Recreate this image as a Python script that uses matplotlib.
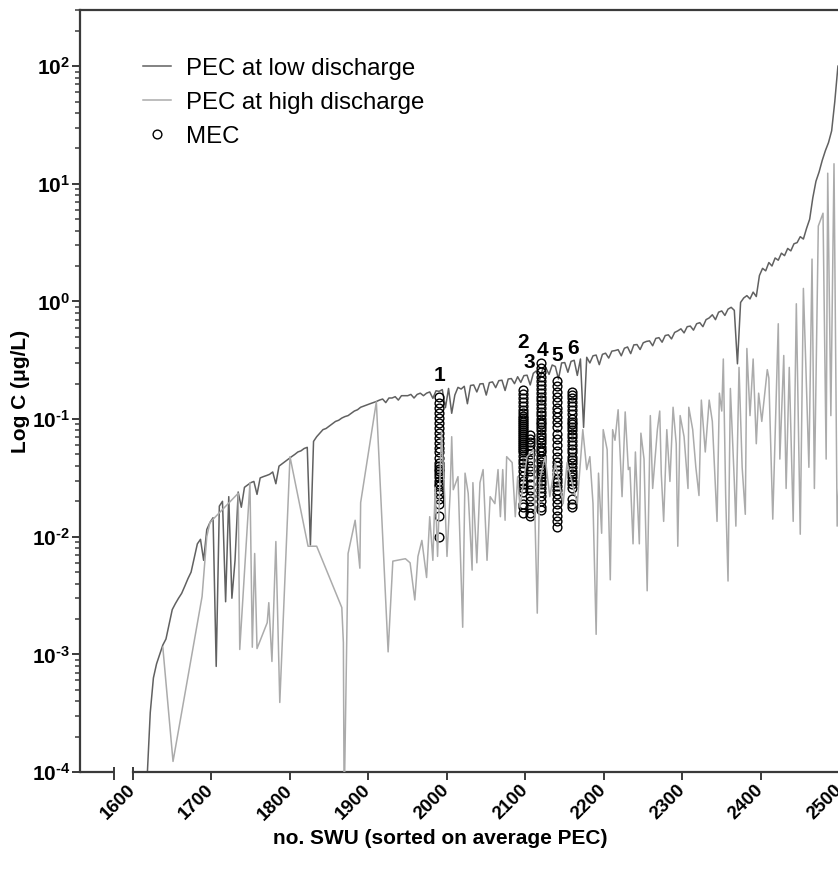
import numpy as np
import matplotlib
matplotlib.use('Agg')
import matplotlib.pyplot as plt
from matplotlib.ticker import FixedLocator, FuncFormatter, NullFormatter

plt.rcParams['font.family'] = ['Liberation Sans', 'DejaVu Sans']
plt.rcParams['mathtext.fontset'] = 'custom'
plt.rcParams['mathtext.rm'] = 'Liberation Sans'
plt.rcParams['mathtext.bf'] = 'Liberation Sans:bold'
plt.rcParams['mathtext.it'] = 'Liberation Sans:italic'

# ---------------- data ----------------
# PEC at low discharge (ug/L), SWU sorted on average PEC (every 4th SWU)
LOW_X = np.arange(1618, 2499, 4)
LOW_C = [
    0.000089, 0.00032, 0.00063, 0.00083, 0.0010, 0.0012, 0.00135, 0.0018, 0.0024, 0.0027,
    0.0030, 0.0033, 0.0038, 0.0044, 0.0050, 0.0066, 0.0087, 0.0095, 0.0063, 0.0115,
    0.0132, 0.0145, 0.00079, 0.0182, 0.020, 0.0028, 0.0219, 0.0030, 0.0063, 0.024,
    0.0178, 0.0263, 0.0275, 0.0288, 0.0295, 0.0229, 0.0316, 0.0324, 0.0331, 0.0339,
    0.0355, 0.0282, 0.0398, 0.0417, 0.0437, 0.0457, 0.0479, 0.050, 0.0525, 0.0537,
    0.0562, 0.0575, 0.0085, 0.0646, 0.0708, 0.0759, 0.0813, 0.0832, 0.0871, 0.0912,
    0.0955, 0.0977, 0.102, 0.105, 0.107, 0.112, 0.117, 0.120, 0.126, 0.129,
    0.132, 0.135, 0.138, 0.141, 0.145, 0.148, 0.138, 0.151, 0.151, 0.155,
    0.145, 0.158, 0.158, 0.158, 0.162, 0.151, 0.162, 0.166, 0.158, 0.166,
    0.170, 0.150, 0.174, 0.172, 0.178, 0.125, 0.182, 0.112, 0.160, 0.186,
    0.180, 0.190, 0.135, 0.193, 0.195, 0.170, 0.199, 0.200, 0.160, 0.204,
    0.207, 0.185, 0.212, 0.214, 0.175, 0.219, 0.221, 0.200, 0.229, 0.205,
    0.234, 0.236, 0.195, 0.245, 0.257, 0.215, 0.269, 0.272, 0.240, 0.288,
    0.280, 0.219, 0.300, 0.302, 0.250, 0.309, 0.316, 0.235, 0.324, 0.085,
    0.335, 0.300, 0.345, 0.350, 0.290, 0.355, 0.363, 0.330, 0.378, 0.382,
    0.389, 0.345, 0.400, 0.410, 0.360, 0.427, 0.430, 0.390, 0.445, 0.457,
    0.462, 0.420, 0.485, 0.492, 0.450, 0.513, 0.520, 0.480, 0.545, 0.562,
    0.585, 0.540, 0.610, 0.617, 0.570, 0.646, 0.660, 0.610, 0.700, 0.724,
    0.770, 0.700, 0.810, 0.830, 0.760, 0.860, 0.891, 0.840, 0.295, 0.980,
    1.07, 1.12, 1.05, 1.20, 1.10, 1.66, 1.91, 1.82, 2.14, 2.00,
    2.34, 2.24, 2.57, 2.45, 2.82, 2.69, 3.09, 3.16, 3.55, 3.39,
    4.17, 5.0, 7.6, 10.5, 12.6, 15.8, 19.1, 22.4, 28.2, 50,
    100,
]

# PEC at high discharge (ug/L)
HIGH_X = [
    1638, 1651, 1688, 1694, 1698, 1734, 1736, 1749, 1752, 1755,
    1758, 1771, 1773, 1777, 1782, 1787, 1800, 1823, 1834, 1866,
    1868, 1869, 1874, 1883, 1889, 1890, 1910, 1925, 1931, 1947,
    1953, 1959, 1963, 1968, 1974, 1978, 1982, 1985, 1988, 1993,
    1997, 2000, 2004, 2006, 2008, 2014, 2020, 2023, 2027, 2032,
    2033, 2038, 2042, 2046, 2051, 2055, 2061, 2065, 2068, 2071,
    2074, 2076, 2083, 2087, 2090, 2093, 2102, 2110, 2115, 2118,
    2125, 2131, 2138, 2144, 2148, 2153, 2166, 2173, 2178, 2182,
    2186, 2190, 2193, 2197, 2199, 2204, 2208, 2211, 2214, 2218,
    2223, 2227, 2231, 2233, 2237, 2240, 2245, 2247, 2251, 2255,
    2259, 2262, 2268, 2271, 2273, 2276, 2280, 2284, 2288, 2292,
    2294, 2297, 2302, 2307, 2308, 2313, 2317, 2321, 2324, 2329,
    2334, 2338, 2344, 2347, 2350, 2352, 2355, 2358, 2361, 2366,
    2368, 2372, 2376, 2380, 2382, 2386, 2390, 2394, 2397, 2401,
    2408, 2410, 2415, 2422, 2424, 2429, 2432, 2436, 2441, 2445,
    2450, 2454, 2457, 2461, 2465, 2468, 2473, 2479, 2483, 2485,
    2489, 2493, 2497, 2499,
]
HIGH_C = [
    0.00115, 0.000123, 0.0031, 0.0100, 0.0132, 0.0234, 0.0011, 0.0288, 0.00115, 0.0072,
    0.00112, 0.00186, 0.00275, 0.00087, 0.0091, 0.00039, 0.0479, 0.0083, 0.0083, 0.0025,
    0.00126, 0.00005, 0.0072, 0.0138, 0.0054, 0.0195, 0.140, 0.00105, 0.0062, 0.0065,
    0.0060, 0.0029, 0.0068, 0.0093, 0.0045, 0.0148, 0.0063, 0.0263, 0.0068, 0.079,
    0.0224, 0.0068, 0.0234, 0.0708, 0.0251, 0.0324, 0.0017, 0.0347, 0.0234, 0.0052,
    0.0288, 0.0060, 0.0288, 0.0372, 0.0063, 0.0219, 0.0191, 0.0372, 0.0148, 0.0372,
    0.0138, 0.0479, 0.0427, 0.0148, 0.0324, 0.0178, 0.0479, 0.055, 0.00224, 0.0302,
    0.0479, 0.0219, 0.0427, 0.0263, 0.0191, 0.0427, 0.0191, 0.0813, 0.0372, 0.0479,
    0.0191, 0.00148, 0.0347, 0.0107, 0.0813, 0.055, 0.0043, 0.0813, 0.066, 0.120,
    0.0219, 0.115, 0.0372, 0.0389, 0.0087, 0.0525, 0.0087, 0.0759, 0.0457, 0.00347,
    0.107, 0.0257, 0.0813, 0.117, 0.0339, 0.0135, 0.0813, 0.0295, 0.126, 0.0617,
    0.0083, 0.107, 0.0708, 0.0257, 0.126, 0.0813, 0.0389, 0.0224, 0.145, 0.0525,
    0.145, 0.0955, 0.0135, 0.166, 0.117, 0.324, 0.0224, 0.0042, 0.182, 0.0295,
    0.0123, 0.275, 0.0389, 0.0155, 0.398, 0.107, 0.324, 0.0617, 0.166, 0.0955,
    0.263, 0.224, 0.0141, 0.646, 0.0457, 0.347, 0.0257, 0.275, 0.0135, 0.955,
    0.0105, 1.29, 0.302, 0.0389, 2.29, 0.0257, 4.37, 5.62, 0.0457, 12.3,
    0.107, 14.8, 0.0123, 0.0251,
]

# MEC (measured concentrations, ug/L) at six monitored SWUs
MEC_SITE_X = [1990, 2097, 2106, 2120, 2140, 2159]
MEC_SITE_LABELS = ['1', '2', '3', '4', '5', '6']
MEC_1 = [0.154, 0.137, 0.124, 0.113, 0.102, 0.093, 0.084, 0.076, 0.069, 0.063,
         0.057, 0.052, 0.047, 0.042, 0.040, 0.038, 0.036, 0.034, 0.032, 0.030,
         0.028, 0.027, 0.025, 0.023, 0.021, 0.019, 0.015, 0.010]
MEC_2 = [0.177, 0.163, 0.151, 0.140, 0.129, 0.119, 0.113, 0.106, 0.102, 0.098,
         0.094, 0.091, 0.087, 0.084, 0.081, 0.078, 0.075, 0.072, 0.069, 0.066,
         0.064, 0.061, 0.059, 0.057, 0.055, 0.052, 0.049, 0.045, 0.042, 0.039,
         0.036, 0.033, 0.030, 0.028, 0.026, 0.024, 0.019, 0.018, 0.016]
MEC_3 = [0.073, 0.068, 0.064, 0.060, 0.055, 0.050, 0.045, 0.040, 0.036, 0.032,
         0.028, 0.025, 0.022, 0.020, 0.018, 0.016, 0.015]
MEC_4 = [0.30, 0.27, 0.25, 0.23, 0.21, 0.195, 0.18, 0.165, 0.155, 0.145,
         0.135, 0.125, 0.115, 0.108, 0.10, 0.095, 0.09, 0.085, 0.08, 0.075,
         0.07, 0.066, 0.062, 0.058, 0.055, 0.052, 0.049, 0.046, 0.043, 0.040,
         0.038, 0.036, 0.034, 0.032, 0.030, 0.028, 0.026, 0.024, 0.022, 0.020,
         0.018, 0.017]
MEC_5 = [0.21, 0.19, 0.17, 0.155, 0.14, 0.125, 0.115, 0.105, 0.095, 0.085,
         0.075, 0.068, 0.06, 0.054, 0.048, 0.043, 0.040, 0.037, 0.034, 0.031,
         0.029, 0.027, 0.025, 0.023, 0.021, 0.019, 0.017, 0.015, 0.0135, 0.012]
MEC_6 = [0.17, 0.16, 0.15, 0.14, 0.13, 0.12, 0.11, 0.10, 0.095, 0.09,
         0.085, 0.08, 0.075, 0.07, 0.065, 0.06, 0.056, 0.052, 0.048, 0.045,
         0.042, 0.039, 0.036, 0.034, 0.032, 0.030, 0.028, 0.026, 0.021, 0.019,
         0.018]
MEC_SITES = [MEC_1, MEC_2, MEC_3, MEC_4, MEC_5, MEC_6]

X_TICKS = [1600, 1700, 1800, 1900, 2000, 2100, 2200, 2300, 2400, 2500]
Y_EXPONENTS = [-4, -3, -2, -1, 0, 1, 2]

# ---------------- figure ----------------
W, H = 838, 880
fig = plt.figure(figsize=(W / 100, H / 100), dpi=100)
ax = fig.add_axes([80 / W, 108 / H, 759.5 / W, 762 / H])

SPINE = '#3a3a3a'
LOW_COL = '#616161'
HIGH_COL = '#ababab'

ax.plot(LOW_X, LOW_C, color=LOW_COL, lw=1.1, zorder=2, label='PEC at low discharge')
for i, (sx, vals) in enumerate(zip(MEC_SITE_X, MEC_SITES)):
    ax.plot([sx] * len(vals), vals, ls='none', marker='o', ms=6.3, mfc='none',
            mec='black', mew=1.0, zorder=3, label='MEC' if i == 0 else None)
ax.plot(HIGH_X, HIGH_C, color=HIGH_COL, lw=1.1, zorder=4, label='PEC at high discharge')

# site numbers
label_c = [0.235, 0.445, 0.30, 0.38, 0.35, 0.395]
label_dx = [0, 0, -1, 2, 0, 2]
for sx, lab, c, dx in zip(MEC_SITE_X, MEC_SITE_LABELS, label_c, label_dx):
    ax.text(sx + dx, c, lab, ha='center', va='center', fontsize=15,
            fontweight='bold', zorder=5)

ax.set_yscale('log')
ax.set_xlim(1532.5, 2500)
ax.set_ylim(1e-4, 300)

# y axis ticks (decades, minor 2..9)
HY = '\u2010'
major_y = [10.0 ** e for e in Y_EXPONENTS]
minor_y = [m * 10.0 ** e for e in Y_EXPONENTS for m in range(2, 10)
           if m * 10.0 ** e <= 300]
ax.yaxis.set_major_locator(FixedLocator(major_y))
ax.yaxis.set_minor_locator(FixedLocator(minor_y))
ax.yaxis.set_major_formatter(FuncFormatter(
    lambda v, p: r'$\mathbf{10^{%s}}$' % str(int(round(np.log10(v)))).replace('-', HY)))
ax.yaxis.set_minor_formatter(NullFormatter())

# x axis with break
ax.set_xticks(X_TICKS)
ax.set_xticklabels([str(t) for t in X_TICKS])
ax.xaxis.set_minor_locator(FixedLocator([1576]))
ax.xaxis.set_minor_formatter(NullFormatter())
ax.spines['bottom'].set_bounds(1600, 2500)
xt = ax.get_xaxis_transform()
ax.plot([1532.5, 1576], [0, 0], transform=xt, color=SPINE,
        lw=1.6, clip_on=False, solid_capstyle='butt', zorder=6)
# break caps (extend a little above the axis line)
for bx in (1576, 1600):
    ax.plot([bx, bx], [0, 0.007], transform=xt, color=SPINE, lw=1.4,
            clip_on=False, solid_capstyle='butt', zorder=6)

for s in ['left', 'bottom', 'top']:
    ax.spines[s].set_color(SPINE)
    ax.spines[s].set_linewidth(1.6)
ax.spines['right'].set_visible(False)

ax.tick_params(axis='y', which='major', direction='out', length=6, width=1.4,
               color=SPINE, labelsize=15, pad=1)
ax.tick_params(axis='y', which='minor', direction='out', length=3.5, width=1.1,
               color=SPINE)
ax.tick_params(axis='x', which='both', direction='out', length=5.5, width=1.4,
               color=SPINE, labelsize=13.5, pad=6)
ax.tick_params(axis='x', which='minor', bottom=True, labelbottom=False)
for lab in ax.get_xticklabels():
    lab.set_rotation(45)
    lab.set_ha('right')
    lab.set_va('center')
    lab.set_rotation_mode('anchor')
    lab.set_fontweight('bold')

ax.set_ylabel('Log C (μg/L)', fontsize=15, fontweight='bold')
ax.yaxis.set_label_coords(-0.066, 0.5)
ax.set_xlabel('no. SWU (sorted on average PEC)', fontsize=15, fontweight='bold')
ax.xaxis.set_label_coords(0.474, -0.075)

handles, labels = ax.get_legend_handles_labels()
order = [labels.index('PEC at low discharge'), labels.index('PEC at high discharge'),
         labels.index('MEC')]
ax.legend([handles[i] for i in order], [labels[i] for i in order],
          loc='upper left', bbox_to_anchor=(0.083, 0.9375), frameon=False,
          fontsize=17.3, handlelength=1.15, handletextpad=0.65, labelspacing=0.5,
          borderaxespad=0, borderpad=0, numpoints=1)

fig.savefig('out.png', dpi=100)
